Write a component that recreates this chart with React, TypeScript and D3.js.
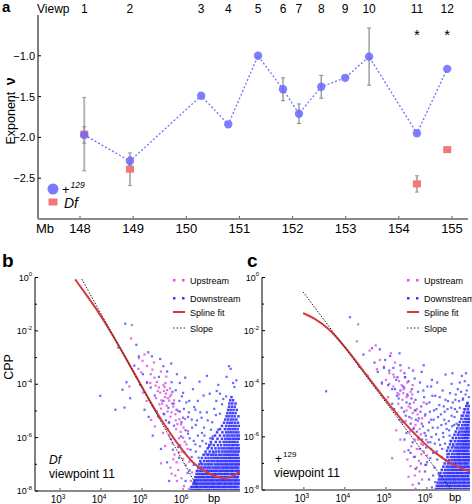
import React from 'react';
import * as d3 from 'd3';

// ---------- Panel a data ----------
const VIEWPOINTS = ['1', '2', '3', '4', '5', '6', '7', '8', '9', '10', '11', '12'];
const VP_MB = [148.08, 148.94, 150.28, 150.79, 151.35, 151.82, 152.12, 152.54, 152.99, 153.44, 154.34, 154.91];
const WT_EXP = [-1.97, -2.29, -1.49, -1.84, -1.0, -1.41, -1.71, -1.38, -1.27, -1.01, -1.95, -1.16];
const WT_ERR = [0.1, 0.05, 0, 0, 0, 0.14, 0.12, 0.14, 0, 0.35, 0, 0];
const DF_IDX = [0, 1, 10, 11];
const DF_EXP = [-1.96, -2.39, -2.57, -2.15];
const DF_ERR = [0.45, 0.2, 0.1, 0];
const SIG_IDX = [10, 11];
const MB_TICKS = [148, 149, 150, 151, 152, 153, 154, 155];
const EXP_TICKS = [-1.0, -1.5, -2.0, -2.5];

// ---------- Panels b / c data (log10 bp, log10 CPP) ----------
const DECADE_LABELS = [0, -2, -4, -6, -8];
const DECADE_MINOR = [-1, -3, -5, -7];
const BP_TICKS = [3, 4, 5, 6];

const B_SPLINE = [3.37, -0.07, 3.62, -0.6, 3.9, -1.2, 4.22, -1.98, 4.6, -3.0, 5.0, -4.1, 5.4, -5.2, 5.85, -6.2, 6.25, -7.01, 6.66, -7.39, 6.98, -7.55, 7.2, -7.48, 7.39, -7.26];
const B_SLOPE = [3.53, -0.06, 6.41, -8.02];
const C_SPLINE = [2.98, -1.34, 3.28, -1.55, 3.6, -1.9, 4.0, -2.6, 4.5, -3.62, 5.0, -4.63, 5.4, -5.4, 5.8, -6.05, 6.2, -6.62, 6.6, -7.02, 6.85, -7.2, 7.05, -7.29];
const C_SLOPE = [2.98, -0.54, 6.61, -8.02];

const B_UP = [
  4.75, -1.78, 4.73, -2.28, 4.92, -3.02, 5.01, -3.12, 5.06, -2.88, 5.12, -3.31, 4.91, -3.42, 5.21, -3.62, 5.29, -3.18, 5.36, -3.91,
  5.41, -4.12, 5.44, -4.31, 5.52, -4.02, 5.56, -4.48, 5.61, -4.22, 5.66, -4.61, 5.71, -4.38, 5.49, -4.72, 5.46, -4.91, 5.62, -5.02,
  5.69, -5.21, 5.76, -4.83, 5.81, -5.12, 5.86, -5.49, 5.91, -5.31, 5.94, -5.78, 6.01, -5.62, 5.39, -5.22, 5.31, -5.58, 5.22, -5.33,
  5.11, -4.62, 5.02, -4.31, 5.26, -4.82, 5.66, -5.92, 5.74, -6.21, 5.79, -6.63, 5.84, -6.92, 5.88, -7.21, 5.96, -7.52, 6.02, -7.81,
  5.81, -7.42, 5.69, -7.12, 5.76, -6.81, 6.06, -7.02, 6.11, -6.42, 5.9, -6.02, 5.56, -6.31, 5.51, -5.82, 4.86, -3.72, 4.69, -4.08,
  5.34, -4.52, 5.59, -3.71, 5.46, -3.52, 6.19, -7.62, 6.14, -7.92, 5.97, -6.52, 5.58, -4.35, 5.63, -4.52, 5.68, -4.15, 5.53, -4.25,
  5.73, -4.72, 5.57, -3.95, 5.83, -5.68, 5.93, -6.28, 6.04, -6.15, 5.85, -7.62, 5.72, -7.35, 5.46, -6.96, 5.12, -3.95, 4.98, -3.55,
  5.3, -3.75, 5.38, -4.25, 5.47, -4.6, 5.55, -4.1, 5.6, -4.8, 5.68, -4.45, 5.72, -5.05, 5.78, -4.6, 5.82, -5.35, 5.88, -5.0,
  5.95, -5.5, 6.0, -6.0, 6.05, -5.3, 6.08, -6.25, 6.12, -5.75, 5.9, -6.55, 6.0, -6.8, 5.65, -5.45, 5.52, -5.1, 5.42, -4.75,
  5.33, -4.05, 5.25, -3.45, 5.2, -3.95, 6.15, -6.9, 6.22, -7.3,
];
const B_DOWN = [
  3.98, -4.43, 4.59, -1.73, 4.57, -4.87, 5.15, -2.8, 4.92, -2.95, 4.81, -3.3, 4.62, -3.92, 4.71, -4.52, 4.52, -4.2, 5.02, -3.62,
  5.12, -3.92, 5.21, -4.12, 5.31, -4.42, 5.41, -3.72, 5.52, -3.32, 5.61, -3.52, 5.72, -3.92, 5.82, -4.22, 5.91, -4.62, 6.02, -4.92,
  6.12, -5.22, 5.92, -5.02, 5.77, -4.72, 5.66, -5.42, 5.54, -5.12, 5.36, -5.02, 5.26, -5.92, 5.16, -5.22, 5.06, -4.95, 5.96, -5.42,
  6.06, -5.72, 6.21, -5.32, 6.31, -5.52, 6.36, -5.92, 6.26, -6.12, 6.16, -6.02, 6.41, -6.32, 6.46, -5.82, 6.51, -5.62, 6.56, -6.22,
  6.31, -6.52, 6.21, -6.72, 6.11, -7.32, 6.06, -7.62, 6.16, -7.22, 6.26, -7.02, 6.62, -6.62, 6.66, -6.02, 6.71, -5.42, 6.76, -4.92,
  6.81, -4.62, 6.86, -4.02, 7.12, -3.32, 7.16, -3.42, 7.06, -3.72, 5.46, -6.42, 5.61, -6.92, 5.66, -7.62, 4.42, -2.62, 4.86, -2.52,
  5.24, -2.95, 5.44, -3.05, 5.71, -3.22, 4.95, -4.02, 4.35, -4.95, 5.85, -3.62, 6.0, -4.32, 6.15, -4.62, 6.3, -4.95, 6.45, -5.25,
  5.75, -6.45, 5.9, -6.75, 6.58, -5.05, 6.68, -5.7, 6.9, -4.35, 7.25, -4.1, 7.3, -3.85,
  5.52, -4.62, 5.58, -5.35, 5.64, -4.88, 5.7, -6.05, 5.78, -5.55, 5.84, -4.95, 5.88, -6.35, 5.95, -5.95, 6.0, -5.25, 6.03, -6.55,
  6.08, -4.68, 6.12, -5.85, 6.18, -6.45, 6.22, -5.62, 6.27, -4.85, 6.3, -6.25, 6.34, -5.35, 6.38, -6.75, 6.42, -5.05, 6.47, -6.12,
  6.52, -5.92, 6.55, -6.62, 6.6, -5.35, 6.63, -6.35, 6.68, -6.25, 6.72, -5.95, 6.75, -6.55, 6.8, -5.15, 6.85, -5.7, 6.9, -5.1,
  6.95, -4.75, 5.62, -5.68, 5.97, -4.45, 6.14, -5.05, 6.36, -4.62, 6.5, -4.42, 6.65, -4.35, 6.82, -4.25, 6.98, -4.55, 5.74, -4.28,
  5.92, -3.95, 6.05, -3.75, 6.24, -4.18, 6.4, -3.9, 6.58, -3.68, 7.05, -4.45, 7.22, -3.95, 6.44, -6.95, 6.33, -7.25, 6.27, -7.65,
  6.19, -7.85,
];
const B_CLUSTER: [number, number[]][] = [
  [-7.96, [6.2, 6.24, 6.29, 6.33, 6.37, 6.42, 6.46, 6.5, 6.55, 6.59, 6.63, 6.67, 6.72, 6.76, 6.8, 6.85, 6.89, 6.93, 6.98, 7.02, 7.06, 7.11, 7.15, 7.19, 7.24, 7.28, 7.32, 7.37]],
  [-7.84, [6.22, 6.27, 6.31, 6.35, 6.4, 6.44, 6.49, 6.53, 6.57, 6.61, 6.66, 6.7, 6.74, 6.78, 6.83, 6.87, 6.91, 6.96, 7.0, 7.04, 7.09, 7.13, 7.17, 7.22, 7.26, 7.3, 7.35]],
  [-7.72, [6.25, 6.3, 6.34, 6.38, 6.43, 6.47, 6.51, 6.56, 6.6, 6.64, 6.69, 6.73, 6.77, 6.82, 6.86, 6.9, 6.94, 6.99, 7.03, 7.07, 7.12, 7.16, 7.2, 7.25, 7.29, 7.33, 7.37]],
  [-7.6, [6.28, 6.32, 6.36, 6.41, 6.45, 6.5, 6.54, 6.58, 6.63, 6.67, 6.71, 6.75, 6.8, 6.84, 6.88, 6.93, 6.97, 7.01, 7.05, 7.1, 7.14, 7.18, 7.23, 7.27, 7.31, 7.36]],
  [-7.48, [6.3, 6.35, 6.39, 6.44, 6.48, 6.52, 6.57, 6.61, 6.65, 6.7, 6.74, 6.78, 6.82, 6.87, 6.91, 6.95, 7.0, 7.04, 7.08, 7.13, 7.17, 7.21, 7.26, 7.3, 7.34]],
  [-7.36, [6.33, 6.38, 6.43, 6.47, 6.51, 6.56, 6.6, 6.64, 6.68, 6.73, 6.77, 6.81, 6.86, 6.9, 6.94, 6.99, 7.03, 7.07, 7.11, 7.16, 7.2, 7.24, 7.29, 7.33, 7.37]],
  [-7.24, [6.35, 6.41, 6.46, 6.53, 6.58, 6.62, 6.67, 6.71, 6.76, 6.8, 6.84, 6.89, 6.93, 6.97, 7.02, 7.06, 7.1, 7.15, 7.19, 7.23, 7.28, 7.32, 7.36]],
  [-7.12, [6.37, 6.44, 6.5, 6.55, 6.61, 6.66, 6.72, 6.77, 6.82, 6.86, 6.91, 6.96, 7.0, 7.05, 7.09, 7.14, 7.18, 7.22, 7.27, 7.31, 7.35]],
  [-7.0, [6.4, 6.47, 6.54, 6.6, 6.65, 6.71, 6.78, 6.83, 6.88, 6.93, 6.98, 7.03, 7.07, 7.12, 7.17, 7.21, 7.26, 7.3, 7.34, 7.38]],
  [-6.88, [6.42, 6.51, 6.58, 6.64, 6.7, 6.76, 6.82, 6.87, 6.92, 6.97, 7.02, 7.06, 7.11, 7.15, 7.2, 7.24, 7.29, 7.33, 7.37]],
  [-6.76, [6.46, 6.55, 6.62, 6.69, 6.75, 6.81, 6.86, 6.92, 6.98, 7.03, 7.08, 7.13, 7.17, 7.22, 7.27, 7.31, 7.36]],
  [-6.64, [6.5, 6.6, 6.68, 6.74, 6.8, 6.87, 6.93, 6.99, 7.04, 7.09, 7.14, 7.19, 7.24, 7.29, 7.34]],
  [-6.52, [6.55, 6.65, 6.73, 6.81, 6.88, 6.95, 7.01, 7.06, 7.11, 7.16, 7.21, 7.26, 7.31, 7.36]],
  [-6.4, [6.6, 6.7, 6.79, 6.87, 6.94, 7.0, 7.06, 7.12, 7.17, 7.22, 7.28, 7.33, 7.38]],
  [-6.28, [6.64, 6.75, 6.85, 6.93, 7.01, 7.07, 7.13, 7.19, 7.24, 7.3, 7.35]],
  [-6.16, [6.68, 6.8, 6.9, 6.99, 7.05, 7.11, 7.16, 7.22, 7.27, 7.33]],
  [-6.04, [6.72, 6.84, 6.95, 7.03, 7.09, 7.15, 7.21, 7.26, 7.32, 7.37]],
  [-5.92, [6.78, 6.9, 7.0, 7.07, 7.13, 7.19, 7.25, 7.31, 7.36]],
  [-5.8, [6.83, 6.96, 7.05, 7.11, 7.17, 7.23, 7.29, 7.35]],
  [-5.68, [6.9, 7.02, 7.09, 7.15, 7.21, 7.27, 7.33]],
  [-5.56, [6.95, 7.05, 7.12, 7.18, 7.24, 7.3, 7.37]],
  [-5.44, [7.0, 7.08, 7.14, 7.2, 7.27, 7.34]],
  [-5.32, [7.03, 7.1, 7.17, 7.23, 7.3]],
  [-5.2, [7.06, 7.12, 7.19, 7.26, 7.35]],
  [-5.08, [7.08, 7.15, 7.21, 7.28]],
  [-4.96, [7.1, 7.16, 7.23, 7.31]],
  [-4.84, [7.12, 7.19, 7.26]],
  [-4.72, [7.13, 7.2, 7.28]],
  [-4.6, [7.15, 7.22]],
  [-4.48, [7.18]],
];

const C_UP = [
  4.32, -1.76, 4.29, -2.4, 4.6, -2.75, 4.75, -2.55, 4.85, -3.1, 4.95, -3.35, 5.0, -3.85, 5.08, -3.6, 5.12, -2.85, 5.18, -4.1,
  5.22, -3.2, 5.28, -4.35, 5.32, -3.9, 5.36, -3.5, 5.4, -4.6, 5.43, -4.2, 5.47, -3.75, 5.5, -5.0, 5.53, -4.45, 5.56, -3.4,
  5.6, -4.9, 5.62, -5.3, 5.65, -4.05, 5.68, -5.65, 5.7, -6.1, 5.73, -5.0, 5.75, -6.45, 5.78, -5.4, 5.8, -6.9, 5.82, -7.3,
  5.85, -5.9, 5.88, -7.6, 5.9, -6.3, 5.6, -7.1, 5.55, -7.5, 5.65, -7.8, 5.72, -7.95, 5.35, -6.1, 5.25, -5.75, 5.15, -6.8,
  5.45, -6.55, 5.58, -5.8, 5.95, -5.2, 6.0, -6.7, 5.92, -4.7, 5.48, -5.4, 5.05, -4.5, 4.9, -4.0, 5.38, -4.05, 5.52, -3.95,
  5.3, -4.75, 5.2, -3.75, 5.42, -4.35, 5.64, -4.4, 5.77, -5.15, 5.86, -6.65, 5.7, -7.45, 4.78, -3.45,
  5.45, -4.15, 5.5, -4.5, 5.55, -4.85, 5.6, -4.3, 5.65, -5.1, 5.68, -4.7, 5.72, -5.55, 5.75, -4.95, 5.78, -6.1, 5.82, -5.7,
  5.86, -6.25, 5.88, -5.3, 5.92, -6.55, 5.95, -7.05, 5.98, -6.1, 5.62, -6.35, 5.68, -6.75, 5.75, -7.15, 5.52, -6.85, 5.32, -4.4,
  5.18, -3.65, 5.08, -4.0,
];
const C_DOWN = [
  3.54, -4.28, 4.12, -1.49, 4.66, -2.66, 4.72, -3.2, 4.8, -3.55, 4.55, -3.7, 4.9, -3.95, 4.98, -3.1, 5.05, -4.05, 5.1, -2.95,
  5.18, -3.4, 5.22, -4.2, 5.28, -3.75, 5.31, -4.55, 5.35, -3.3, 5.38, -4.9, 5.42, -4.1, 5.45, -3.6, 5.48, -5.2, 5.52, -4.4,
  5.55, -3.9, 5.58, -4.75, 5.6, -5.5, 5.63, -4.2, 5.66, -3.5, 5.7, -5.0, 5.72, -4.6, 5.75, -5.8, 5.78, -4.3, 5.8, -5.3,
  5.83, -3.95, 5.86, -4.85, 5.88, -6.1, 5.9, -5.6, 5.93, -4.5, 5.96, -5.15, 5.98, -6.4, 6.01, -4.1, 6.03, -5.75, 6.06, -4.7,
  6.08, -6.2, 6.1, -5.35, 6.12, -3.85, 6.15, -6.6, 6.17, -5.0, 6.2, -4.45, 6.22, -5.9, 6.25, -6.85, 6.27, -5.25, 6.3, -4.8,
  6.32, -6.3, 6.35, -5.55, 6.38, -4.25, 6.4, -6.0, 6.43, -5.05, 6.45, -4.6, 6.48, -5.7, 6.5, -4.95, 6.53, -5.4, 6.56, -4.35,
  6.6, -5.2, 6.63, -4.7, 6.66, -5.55, 6.7, -4.4, 6.73, -5.05, 6.78, -4.65, 6.83, -4.3, 6.88, -4.55, 6.92, -3.9, 6.97, -4.25,
  7.01, -4.05, 6.85, -3.7, 6.62, -3.6, 5.92, -3.3, 5.65, -6.2, 5.55, -6.5, 5.7, -6.75, 5.85, -7.0, 5.95, -7.3, 6.05, -7.6,
  5.8, -7.75, 6.12, -7.9, 6.0, -6.95, 6.18, -7.15, 6.1, -6.45, 5.5, -5.85, 5.4, -5.45, 4.45, -2.9, 4.35, -3.35, 5.0, -4.6,
  5.25, -5.1, 5.15, -4.75, 6.28, -7.4, 6.2, -7.7, 5.9, -8.0, 6.05, -5.45, 6.24, -6.55, 6.36, -6.75, 6.14, -5.65, 5.97, -5.95,
  6.42, -5.35, 6.55, -5.95, 6.68, -4.95, 6.8, -3.95, 6.95, -3.6, 4.85, -2.7, 5.33, -2.85,
  5.2, -4.95, 5.27, -4.45, 5.33, -5.35, 5.44, -5.05, 5.5, -4.7, 5.57, -5.25, 5.62, -4.55, 5.67, -5.7, 5.73, -5.35, 5.79, -6.0,
  5.84, -5.05, 5.87, -5.5, 5.91, -4.25, 5.94, -5.85, 5.99, -4.75, 6.02, -6.2, 6.07, -5.05, 6.11, -6.0, 6.13, -4.45, 6.16, -5.35,
  6.19, -6.25, 6.23, -4.95, 6.26, -5.65, 6.29, -6.1, 6.31, -4.5, 6.34, -5.15, 6.37, -6.45, 6.39, -5.85, 6.41, -4.85, 6.44, -6.25,
  6.46, -5.5, 6.49, -6.65, 6.51, -4.65, 6.54, -5.75, 6.57, -6.15, 6.59, -4.9, 6.61, -5.6, 6.64, -6.35, 6.67, -5.25, 6.69, -4.6,
  6.72, -5.5, 6.75, -4.2, 6.77, -5.85, 6.8, -4.9, 6.84, -5.2, 6.87, -4.6, 6.9, -4.95, 6.94, -4.4, 6.98, -4.75, 7.02, -4.5,
  5.45, -6.1, 5.6, -6.6, 5.72, -7.2, 5.82, -6.45, 5.98, -7.05, 6.08, -6.8, 6.15, -7.45, 5.35, -4.25, 5.25, -3.85, 5.46, -3.75,
  5.15, -4.2, 5.7, -3.8, 5.87, -3.55, 6.1, -4.1, 6.25, -3.95, 6.45, -3.65, 6.6, -4.0, 5.08, -3.5, 4.95, -3.4,
];
const C_CLUSTER: [number, number[]][] = [
  [-7.96, [6.22, 6.27, 6.31, 6.36, 6.4, 6.45, 6.49, 6.53, 6.58, 6.62, 6.67, 6.71, 6.75, 6.8, 6.84, 6.89, 6.93, 6.97, 7.02]],
  [-7.84, [6.24, 6.29, 6.34, 6.38, 6.43, 6.47, 6.52, 6.56, 6.6, 6.65, 6.69, 6.74, 6.78, 6.82, 6.87, 6.91, 6.95, 7.0, 7.04]],
  [-7.72, [6.26, 6.32, 6.37, 6.42, 6.46, 6.5, 6.55, 6.59, 6.64, 6.68, 6.72, 6.77, 6.81, 6.86, 6.9, 6.94, 6.99, 7.03]],
  [-7.6, [6.29, 6.34, 6.39, 6.45, 6.49, 6.54, 6.58, 6.63, 6.67, 6.71, 6.76, 6.8, 6.85, 6.89, 6.93, 6.98, 7.02]],
  [-7.48, [6.31, 6.37, 6.43, 6.48, 6.53, 6.57, 6.62, 6.66, 6.7, 6.75, 6.79, 6.84, 6.88, 6.92, 6.97, 7.01]],
  [-7.36, [6.33, 6.41, 6.47, 6.52, 6.56, 6.61, 6.65, 6.7, 6.74, 6.78, 6.83, 6.87, 6.92, 6.96, 7.0, 7.04]],
  [-7.24, [6.36, 6.44, 6.5, 6.55, 6.6, 6.64, 6.69, 6.73, 6.78, 6.82, 6.86, 6.91, 6.95, 6.99, 7.03]],
  [-7.12, [6.4, 6.48, 6.53, 6.59, 6.63, 6.68, 6.72, 6.77, 6.81, 6.85, 6.9, 6.94, 6.98, 7.02]],
  [-7.0, [6.43, 6.51, 6.57, 6.62, 6.67, 6.71, 6.76, 6.8, 6.84, 6.89, 6.93, 6.97, 7.01]],
  [-6.88, [6.46, 6.54, 6.6, 6.66, 6.7, 6.75, 6.79, 6.83, 6.88, 6.92, 6.96, 7.0, 7.04]],
  [-6.76, [6.5, 6.58, 6.64, 6.69, 6.74, 6.78, 6.82, 6.87, 6.91, 6.95, 6.99, 7.03]],
  [-6.64, [6.53, 6.61, 6.67, 6.73, 6.77, 6.81, 6.86, 6.9, 6.94, 6.98, 7.02]],
  [-6.52, [6.49, 6.57, 6.65, 6.71, 6.76, 6.8, 6.85, 6.89, 6.93, 6.97, 7.01]],
  [-6.4, [6.52, 6.61, 6.69, 6.74, 6.79, 6.84, 6.88, 6.92, 6.96, 7.0, 7.04]],
  [-6.28, [6.56, 6.64, 6.72, 6.77, 6.82, 6.87, 6.91, 6.95, 6.99, 7.03]],
  [-6.16, [6.59, 6.68, 6.75, 6.81, 6.86, 6.9, 6.94, 6.98, 7.02]],
  [-6.04, [6.63, 6.71, 6.78, 6.84, 6.89, 6.93, 6.97, 7.01]],
  [-5.92, [6.67, 6.75, 6.82, 6.88, 6.92, 6.96, 7.0, 7.04]],
  [-5.8, [6.7, 6.79, 6.85, 6.91, 6.95, 6.99, 7.03]],
  [-5.68, [6.74, 6.82, 6.88, 6.94, 6.98, 7.02]],
  [-5.56, [6.77, 6.86, 6.92, 6.97, 7.01]],
  [-5.44, [6.8, 6.89, 6.95, 7.0, 7.04]],
  [-5.32, [6.84, 6.92, 6.98, 7.03]],
  [-5.2, [6.87, 6.95, 7.01]],
  [-5.08, [6.9, 6.98, 7.03]],
  [-4.96, [6.93, 7.0]],
  [-4.84, [6.96, 7.02]],
  [-4.72, [6.99]],
];

const FONT = 'Liberation Sans, Arial, Helvetica, sans-serif';
const BLUE_PT = '#6a6aff';
const DF_COL = '#f07878';
const UP_COL = '#dd55dd';
const DOWN_COL = '#3a3aff';
const CLUSTER_COL = '#2828ff';
const RED = '#d63a3a';

function pairs(arr: number[]): [number, number][] {
  const out: [number, number][] = [];
  for (let i = 0; i < arr.length; i += 2) out.push([arr[i], arr[i + 1]]);
  return out;
}
function rowsToPairs(rows: [number, number[]][]): [number, number][] {
  const out: [number, number][] = [];
  rows.forEach(([yv, xs]) => xs.forEach((xv) => out.push([xv, yv])));
  return out;
}

function PanelA() {
  const x = d3.scaleLinear().domain([148, 155]).range([80, 452]);
  const y = d3.scaleLinear().domain([-3, -0.5]).range([219, 15]);
  const line = d3
    .line<number>()
    .x((_, i) => x(VP_MB[i]))
    .y((d) => y(d));
  const fmt = d3.format('.1f');
  return (
    <g fontFamily={FONT}>
      <text x={2} y={12} fontSize={15} fontWeight="bold">a</text>
      <text x={37} y={13} fontSize={12}>Viewp</text>
      {VIEWPOINTS.map((v, i) => (
        <text key={'vp' + v} x={x(VP_MB[i])} y={13} fontSize={12} textAnchor="middle">{v}</text>
      ))}
      {SIG_IDX.map((i) => (
        <text key={'s' + i} x={x(VP_MB[i])} y={40} fontSize={15} textAnchor="middle">*</text>
      ))}
      <line x1={38} x2={38} y1={15} y2={219} stroke="#000" strokeWidth={1} />
      {EXP_TICKS.map((t) => (
        <g key={'et' + t}>
          <line x1={38} x2={41} y1={y(t)} y2={y(t)} stroke="#000" />
          <text x={35} y={y(t) + 4} fontSize={11} textAnchor="end">{fmt(t)}</text>
        </g>
      ))}
      <line x1={38} x2={468} y1={219} y2={219} stroke="#8a8a8a" strokeWidth={2} />
      {MB_TICKS.map((t) => (
        <g key={'mb' + t}>
          <line x1={x(t)} x2={x(t)} y1={218} y2={216} stroke="#555" />
          <text x={x(t)} y={233} fontSize={13} textAnchor="middle">{t}</text>
        </g>
      ))}
      <text x={36} y={233} fontSize={13}>Mb</text>
      <text transform="translate(15,111) rotate(-90)" fontSize={12.5} textAnchor="middle">
        Exponent <tspan fontWeight="bold" fontSize={14} dx={3}>ν</tspan>
      </text>
      {DF_IDX.map((idx, k) =>
        DF_ERR[k] > 0 ? (
          <g key={'dfe' + k} stroke="#b4b4b4">
            <line x1={x(VP_MB[idx])} x2={x(VP_MB[idx])} y1={y(DF_EXP[k] + DF_ERR[k])} y2={y(DF_EXP[k] - DF_ERR[k])} strokeWidth={2} />
            <line x1={x(VP_MB[idx]) - 2} x2={x(VP_MB[idx]) + 2} y1={y(DF_EXP[k] + DF_ERR[k])} y2={y(DF_EXP[k] + DF_ERR[k])} strokeWidth={1} stroke="#999" />
            <line x1={x(VP_MB[idx]) - 2} x2={x(VP_MB[idx]) + 2} y1={y(DF_EXP[k] - DF_ERR[k])} y2={y(DF_EXP[k] - DF_ERR[k])} strokeWidth={1} stroke="#999" />
          </g>
        ) : null
      )}
      {WT_EXP.map((v, i) =>
        WT_ERR[i] > 0 ? (
          <g key={'we' + i} stroke="#a0a0a0">
            <line x1={x(VP_MB[i])} x2={x(VP_MB[i])} y1={y(v + WT_ERR[i])} y2={y(v - WT_ERR[i])} strokeWidth={1.5} />
            <line x1={x(VP_MB[i]) - 2} x2={x(VP_MB[i]) + 2} y1={y(v + WT_ERR[i])} y2={y(v + WT_ERR[i])} stroke="#888" />
            <line x1={x(VP_MB[i]) - 2} x2={x(VP_MB[i]) + 2} y1={y(v - WT_ERR[i])} y2={y(v - WT_ERR[i])} stroke="#888" />
          </g>
        ) : null
      )}
      {DF_IDX.map((idx, k) => (
        <rect key={'df' + k} x={x(VP_MB[idx]) - 4} y={y(DF_EXP[k]) - 3.5} width={8} height={7} fill={DF_COL} />
      ))}
      <path d={line(WT_EXP) || ''} fill="none" stroke="#6f6fff" strokeWidth={1.3} strokeDasharray="2 2" />
      {WT_EXP.map((v, i) => (
        <circle key={'wt' + i} cx={x(VP_MB[i])} cy={y(v)} r={4.2} fill={BLUE_PT} fillOpacity={0.85} />
      ))}
      <circle cx={53} cy={189} r={5.5} fill={BLUE_PT} fillOpacity={0.9} />
      <text x={62} y={194} fontSize={13}>
        +<tspan fontSize={8.5} fontStyle="italic" dy={-6} dx={1}>129</tspan>
      </text>
      <rect x={48.5} y={198.5} width={9} height={7} fill={DF_COL} />
      <text x={64} y={208} fontSize={14} fontStyle="italic">Df</text>
    </g>
  );
}

function DecadeLabel({ x, y, exp, anchor, size }: { x: number; y: number; exp: number; anchor: string; size: number }) {
  return (
    <text x={x} y={y} fontSize={size} textAnchor={anchor as any} fontFamily={FONT}>
      10<tspan fontSize={size * 0.65} dy={-size * 0.45}>{String(exp)}</tspan>
    </text>
  );
}

function ScatterPanel(props: {
  x: d3.ScaleLogarithmic<number, number>;
  y: d3.ScaleLogarithmic<number, number>;
  axisX: number;
  axisRight: number;
  axisBottom: number;
  up: number[];
  down: number[];
  cluster: [number, number[]][];
  spline: number[];
  slope: number[];
  legendX: number;
  clipId: string;
  bpX: number;
}) {
  const { x, y, axisX, axisRight, axisBottom, legendX, clipId } = props;
  const px = (lv: number) => x(Math.pow(10, lv));
  const py = (lv: number) => y(Math.pow(10, lv));
  const smooth = d3
    .line<[number, number]>()
    .x((d) => px(d[0]))
    .y((d) => py(d[1]))
    .curve(d3.curveBasis);
  const straight = d3
    .line<[number, number]>()
    .x((d) => px(d[0]))
    .y((d) => py(d[1]));
  const down = pairs(props.down);
  const cluster = rowsToPairs(props.cluster);
  const up = pairs(props.up);
  const top = y(1);
  return (
    <g fontFamily={FONT}>
      <defs>
        <clipPath id={clipId}>
          <rect x={axisX} y={top - 3} width={axisRight - axisX} height={axisBottom - top + 3} />
        </clipPath>
      </defs>
      <g clipPath={`url(#${clipId})`}>
        {up.map((d, i) => (
          <rect key={'u' + i} x={px(d[0]) - 1} y={py(d[1]) - 1} width={2.2} height={2.2} fill={UP_COL} fillOpacity={0.85} />
        ))}
        {down.map((d, i) => (
          <rect key={'d' + i} x={px(d[0]) - 1} y={py(d[1]) - 1} width={2.2} height={2.2} fill={DOWN_COL} fillOpacity={0.75} />
        ))}
        {cluster.map((d, i) => (
          <rect key={'c' + i} x={px(d[0]) - 1.2} y={py(d[1]) - 1.2} width={2.5} height={2.5} fill={CLUSTER_COL} fillOpacity={0.88} />
        ))}
        <path d={smooth(pairs(props.spline)) || ''} fill="none" stroke={RED} strokeWidth={2} />
        <path d={straight(pairs(props.slope)) || ''} fill="none" stroke="#222" strokeWidth={1} strokeDasharray="1.5 1.5" />
      </g>
      <line x1={axisX} x2={axisX} y1={top} y2={axisBottom} stroke="#000" />
      <line x1={axisX} x2={axisRight} y1={axisBottom} y2={axisBottom} stroke="#8a8a8a" strokeWidth={2} />
      {DECADE_LABELS.map((e) => (
        <g key={'yl' + e}>
          <line x1={axisX} x2={axisX + 3} y1={py(e)} y2={py(e)} stroke="#000" />
          <DecadeLabel x={axisX - 3} y={py(e) + 3} exp={e} anchor="end" size={9} />
        </g>
      ))}
      {DECADE_MINOR.map((e) => (
        <line key={'ym' + e} x1={axisX} x2={axisX + 2} y1={py(e)} y2={py(e)} stroke="#000" />
      ))}
      {BP_TICKS.map((e) => (
        <g key={'xl' + e}>
          <line x1={px(e)} x2={px(e)} y1={axisBottom - 1} y2={axisBottom - 3} stroke="#555" />
          <DecadeLabel x={px(e) - 2} y={axisBottom + 12} exp={e} anchor="middle" size={10} />
        </g>
      ))}
      <text x={props.bpX} y={axisBottom + 11} fontSize={11} textAnchor="middle">bp</text>
      <rect x={legendX - 1} y={279} width={2.5} height={2.5} fill={UP_COL} />
      <rect x={legendX + 8} y={279} width={2.5} height={2.5} fill={UP_COL} />
      <text x={legendX + 16} y={284} fontSize={9}>Upstream</text>
      <rect x={legendX - 1} y={297} width={2.5} height={2.5} fill={DOWN_COL} />
      <rect x={legendX + 8} y={297} width={2.5} height={2.5} fill={DOWN_COL} />
      <text x={legendX + 16} y={302} fontSize={9}>Downstream</text>
      <line x1={legendX - 1} x2={legendX + 11} y1={312} y2={312} stroke={RED} strokeWidth={2} />
      <text x={legendX + 16} y={316} fontSize={9}>Spline fit</text>
      <line x1={legendX - 1} x2={legendX + 11} y1={328} y2={328} stroke="#222" strokeWidth={1} strokeDasharray="1.5 2" />
      <text x={legendX + 16} y={332} fontSize={9}>Slope</text>
    </g>
  );
}

export default function App() {
  const xB = d3.scaleLog().domain([Math.pow(10, 2.39), Math.pow(10, 7.39)]).range([35, 240]);
  const yB = d3.scaleLog().domain([1e-8, 1]).range([491, 277.5]);
  const xC = d3.scaleLog().domain([Math.pow(10, 1.98), Math.pow(10, 7.05)]).range([262, 470]);
  const yC = d3.scaleLog().domain([1e-8, 1]).range([490, 277.5]);
  return (
    <svg width={472} height={504} style={{ position: 'absolute', left: 0, top: 0, background: '#fff' }} fontFamily={FONT}>
      <rect width={472} height={504} fill="#fff" />
      <PanelA />
      <text x={2} y={267} fontSize={19} fontWeight="bold" fontFamily={FONT}>b</text>
      <text x={247} y={267} fontSize={19} fontWeight="bold" fontFamily={FONT}>c</text>
      <text transform="translate(13,367) rotate(-90)" fontSize={12.5} textAnchor="middle" fontFamily={FONT}>CPP</text>
      <ScatterPanel
        x={xB} y={yB} axisX={35} axisRight={240} axisBottom={491}
        up={B_UP} down={B_DOWN} cluster={B_CLUSTER} spline={B_SPLINE} slope={B_SLOPE}
        legendX={174} clipId="clipB" bpX={214}
      />
      <ScatterPanel
        x={xC} y={yC} axisX={262} axisRight={470} axisBottom={490}
        up={C_UP} down={C_DOWN} cluster={C_CLUSTER} spline={C_SPLINE} slope={C_SLOPE}
        legendX={408} clipId="clipC" bpX={455}
      />
      <text x={49} y={464} fontSize={12} fontStyle="italic" fontFamily={FONT}>Df</text>
      <text x={49} y={478} fontSize={12} fontFamily={FONT}>viewpoint 11</text>
      <text x={275} y={463} fontSize={12} fontFamily={FONT}>
        +<tspan fontSize={8} dy={-6} dx={1}>129</tspan>
      </text>
      <text x={274} y={477} fontSize={12} fontFamily={FONT}>viewpoint 11</text>
    </svg>
  );
}
